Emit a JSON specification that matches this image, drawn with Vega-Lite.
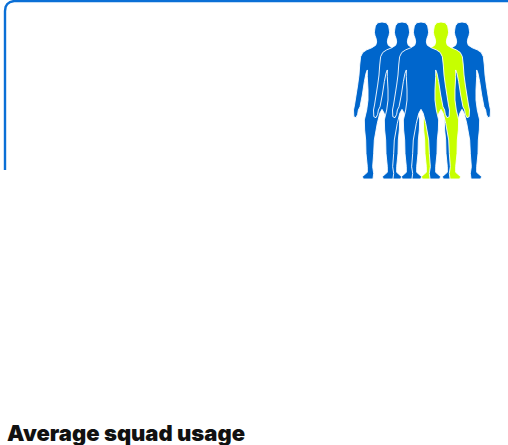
{
"$schema":"https://vega.github.io/schema/vega-lite/v6.json",
"width":508,"height":445,"padding":0,"autosize":{"type":"none"},
"background":"white",
"view":{"stroke":null},
"datasets":{
"frame":[{"x":5,"y":170},{"x":5,"y":11},{"x":5.6,"y":7},{"x":7.3,"y":4},{"x":10,"y":2},{"x":14,"y":1},{"x":508,"y":1}],
"squad":[{"player":"A","x":462,"y":100.5,"status":"usual"},{"player":"B","x":382,"y":100.5,"status":"usual"},{"player":"C","x":441,"y":100.5,"status":"rotated"},{"player":"D","x":402,"y":100.5,"status":"usual"},{"player":"E","x":421,"y":100.5,"status":"usual"}],
"caption":[{"x":7,"y":441,"label":"Average squad usage"}]
},
"encoding":{
"x":{"field":"x","type":"quantitative","scale":{"domain":[0,508],"nice":false,"zero":false},"axis":null},
"y":{"field":"y","type":"quantitative","scale":{"domain":[445,0],"nice":false,"zero":false},"axis":null}
},
"layer":[
{"data":{"name":"frame"},"mark":{"type":"line","color":"#0a6fd6","strokeWidth":2.4,"clip":false}},
{"data":{"name":"squad"},"mark":{"type":"point","filled":true,"opacity":1,"stroke":"white","strokeWidth":0.9,"size":24649,
"shape":"M0,-1L.055,-.99L.085,-.95L.093,-.9L.097,-.87L.09,-.83L.075,-.79L.068,-.745L.08,-.705L.13,-.672L.195,-.645L.245,-.612L.272,-.558L.284,-.452L.293,-.325L.31,-.197L.33,-.07L.35,.057L.363,.121L.359,.206L.331,.219L.31,.176L.301,.121L.28,.079L.251,-.07L.225,-.24L.204,-.346L.187,-.389L.187,-.304L.178,-.134L.178,-.006L.195,.121L.225,.248L.221,.376L.208,.503L.204,.673L.187,.843L.187,.915L.25,.97L.238,1L.115,1L.106,.928L.119,.843L.106,.673L.098,.503L.06,.291L.028,.163L0,.113L-.028,.163L-.06,.291L-.098,.503L-.106,.673L-.119,.843L-.106,.928L-.115,1L-.238,1L-.25,.97L-.187,.915L-.187,.843L-.204,.673L-.208,.503L-.221,.376L-.225,.248L-.195,.121L-.178,-.006L-.178,-.134L-.187,-.304L-.187,-.389L-.204,-.346L-.225,-.24L-.251,-.07L-.28,.079L-.301,.121L-.31,.176L-.331,.219L-.359,.206L-.363,.121L-.35,.057L-.33,-.07L-.31,-.197L-.293,-.325L-.284,-.452L-.272,-.558L-.245,-.612L-.195,-.645L-.13,-.672L-.08,-.705L-.068,-.745L-.075,-.79L-.09,-.83L-.097,-.87L-.093,-.9L-.085,-.95L-.055,-.99Z"},
"encoding":{"color":{"field":"status","type":"nominal","scale":{"domain":["usual","rotated"],"range":["#0066cc","#c6ff00"]},"legend":null}}},
{"data":{"name":"caption"},"mark":{"type":"text","align":"left","baseline":"alphabetic","font":"Inter","fontWeight":900,"fontSize":22,"color":"#111111"},"encoding":{"text":{"field":"label"}}}
]
}
